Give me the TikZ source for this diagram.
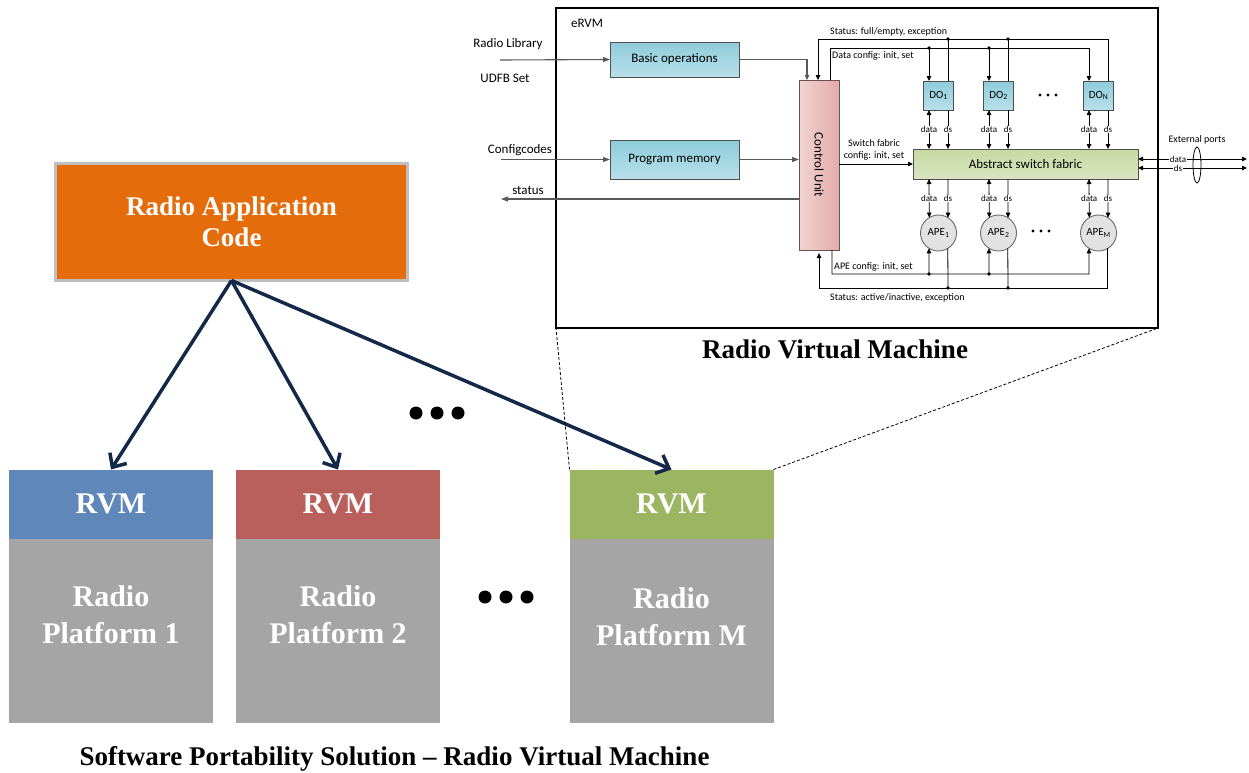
\documentclass[tikz,border=0pt]{standalone}
\usepackage{fontspec}
\setmainfont{Liberation Serif}
\newfontfamily\calfont{Carlito}
\usetikzlibrary{arrows.meta,calc,shapes.geometric}
\definecolor{racorange}{HTML}{E46C0A}
\definecolor{racborder}{HTML}{BFBFBF}
\definecolor{navy}{HTML}{14294A}
\definecolor{rvmblue}{HTML}{5F87BA}
\definecolor{rvmred}{HTML}{B9605D}
\definecolor{rvmgreen}{HTML}{9BB562}
\definecolor{platgray}{HTML}{A5A5A5}
\definecolor{tealtop}{HTML}{8ECCDA}
\definecolor{tealbot}{HTML}{B8E0EA}
\definecolor{boxedge}{HTML}{4F4F4F}
\definecolor{cuL}{HTML}{F2D3D1}
\definecolor{cuR}{HTML}{E2ABA9}
\definecolor{cuedge}{HTML}{6E5050}
\definecolor{fabtop}{HTML}{C7D9A2}
\definecolor{fabbot}{HTML}{D9E5C1}
\definecolor{apefill}{HTML}{E2E2E2}
\definecolor{apeedge}{HTML}{6A6A6A}
\definecolor{wiregray}{HTML}{595959}
\begin{document}
\begin{tikzpicture}[x=1pt,y=-1pt,
  bigtxt/.style={font=\bfseries\fontsize{30}{37}\selectfont, text=white, align=center, inner sep=0},
  navyarrow/.style={draw=navy, line width=3.5pt, -{Straight Barb[length=11pt,width=20pt]}},
  rvmbox/.style={minimum width=204pt, minimum height=69pt, inner sep=0, outer sep=0},
  platbox/.style={fill=platgray, minimum width=204pt, minimum height=184pt, inner sep=0, outer sep=0},
  cal/.style={font=\calfont\fontsize{13}{15}\selectfont, inner sep=0},
  calsm/.style={font=\calfont\fontsize{10}{12}\selectfont, inner sep=0},
  caltiny/.style={font=\calfont\fontsize{9}{10}\selectfont, inner sep=0.6pt, fill=white},
  tealbox/.style={draw=boxedge, line width=0.8pt, top color=tealtop, bottom color=tealbot, inner sep=0, outer sep=0, font=\calfont\fontsize{13}{15}\selectfont},
  dobox/.style={tealbox, minimum width=30pt, minimum height=29pt, font=\calfont\fontsize{11}{13}\selectfont},
  apecirc/.style={circle, draw=apeedge, line width=0.9pt, fill=apefill, minimum size=36pt, inner sep=0, outer sep=0, font=\calfont\fontsize{11}{13}\selectfont},
  wire/.style={draw=black, line width=0.8pt},
  gwire/.style={draw=wiregray, line width=1.1pt},
  arr/.style={-{Triangle[length=5pt,width=4.5pt]}},
  darr/.style={{Triangle[length=5pt,width=4.5pt]}-{Triangle[length=5pt,width=4.5pt]}},
  garr/.style={-{Triangle[length=7pt,width=5pt]}},
  jdot/.style={fill=black}
]
\useasboundingbox (0,0) rectangle (1249,772);

% ---------- lower part ----------
\node[draw=racborder, line width=3pt, fill=racorange, minimum width=352pt, minimum height=117pt,
      inner sep=0, outer sep=0, font=\bfseries\fontsize{27}{31}\selectfont, text=white, align=center]
      (rac) at (231.5,222) {Radio Application\\Code};

\node[rvmbox, fill=rvmblue, bigtxt] (rvm1) at (111,504) {RVM};
\node[rvmbox, fill=rvmred, bigtxt] (rvm2) at (338,504) {RVM};
\node[rvmbox, fill=rvmgreen, bigtxt] (rvm3) at (671.5,504) {RVM};
\node[platbox] (plat1) at (111,630.5) {};
\node[platbox] (plat2) at (338,630.5) {};
\node[platbox] (plat3) at (671.5,630.5) {};
\node[bigtxt] (pt1) at (111,615) {Radio\\Platform 1};
\node[bigtxt] (pt2) at (338,615) {Radio\\Platform 2};
\node[bigtxt] (pt3) at (671.5,617) {Radio\\Platform M};

\draw[navyarrow] (rac.south) -- (rvm1.north);
\draw[navyarrow] (rac.south) -- (rvm2.north);
\draw[navyarrow] (rac.south) -- (rvm3.north);

\foreach \x in {416,437,458} \fill (\x,413) circle (6.5pt);
\foreach \x in {485,506,527} \fill (\x,597) circle (6.5pt);

\node[font=\bfseries\fontsize{27}{30}\selectfont, inner sep=0] (title) at (394.5,759) {Software Portability Solution – Radio Virtual Machine};

% ---------- eRVM ----------
\node[draw, line width=1.3pt, minimum width=602pt, minimum height=320pt, inner sep=0, outer sep=0] (ervm) at (857,168) {};
\node[font=\bfseries\fontsize{27}{30}\selectfont, inner sep=0] (rvmt) at (835,349) {Radio Virtual Machine};
\draw[dashed, line width=0.8pt, dash pattern=on 3pt off 2pt] (rvm3.north west) -- (ervm.south west);
\draw[dashed, line width=0.8pt, dash pattern=on 3pt off 2pt] (rvm3.north east) -- (ervm.south east);

\node[cal] (elbl) at (587,23) {eRVM};
\node[cal] (lib) at (508,44) {Radio Library};
\node[cal] (udfb) at (505,78) {UDFB Set};
\node[cal] (cfg) at (520,150) {Configcodes};
\node[cal] (stl) at (528,190) {status};

\node[tealbox, minimum width=129pt, minimum height=35pt] (bo) at (674.5,59.5) {Basic operations};
\node[tealbox, minimum width=129pt, minimum height=39pt] (pm) at (674.5,159.5) {Program memory};
\node[draw=cuedge, line width=0.8pt, left color=cuL, right color=cuR, minimum width=40pt, minimum height=170pt,
      inner sep=0, outer sep=0, font=\calfont\fontsize{13}{15}\selectfont] (cu) at (819,165) {\rotatebox{-90}{Control Unit}};

\node[dobox] (do1) at (938.5,95.5) {DO\textsubscript{1}};
\node[dobox] (do2) at (998.5,95.5) {DO\textsubscript{2}};
\node[dobox] (doN) at (1098.5,95.5) {DO\textsubscript{N}};
\node[draw=boxedge, line width=0.8pt, top color=fabtop, bottom color=fabbot, minimum width=225pt, minimum height=30pt,
      inner sep=0, outer sep=0, font=\calfont\fontsize{13}{15}\selectfont] (fab) at (1025.5,164) {Abstract switch fabric};
\node[apecirc] (ape1) at (938.5,233) {APE\textsubscript{1}};
\node[apecirc] (ape2) at (998.5,233) {APE\textsubscript{2}};
\node[apecirc] (apeM) at (1098.5,233) {APE\textsubscript{M}};

\foreach \x in {1040,1048,1056} \fill (\x,95) circle (1.7pt);
\foreach \x in {1033,1041,1049} \fill (\x,231) circle (1.7pt);

% helper coordinates
\coordinate (x1d) at (929,0);  \coordinate (x1s) at (948,0);
\coordinate (x2d) at (989,0);  \coordinate (x2s) at (1008,0);
\coordinate (xNd) at (1089,0); \coordinate (xNs) at (1108,0);
\coordinate (yS) at (0,39);  \coordinate (yD) at (0,48);
\coordinate (yA) at (0,274); \coordinate (yB) at (0,288);
\coordinate (xcb) at (807,0); \coordinate (xcs) at (818,0); \coordinate (xcd) at (830,0);
\coordinate (xca) at (832,0); \coordinate (xct) at (819,0);
\coordinate (libin) at (500,60);
\coordinate (cfgin) at (501,159.5);
\coordinate (stout) at (501,199);
\coordinate (e1) at (1247,159);
\coordinate (e2) at (1247,168);

% gray inputs
\draw[gwire,garr] (libin) -- (bo.west);
\draw[gwire,garr] (cfgin) -- (pm.west);
\draw[gwire,garr] (pm.east) -- (cu.west |- pm.east);
\draw[gwire,garr] (cu.west |- stout) -- (stout);
\draw[gwire,arr] (bo.east) -| (xcb |- cu.north);

% top buses
\draw[wire,arr] (xNs |- doN.north) |- (xcs |- yS) -- (xcs |- cu.north);
\draw[wire] (x1s |- do1.north) -- (x1s |- yS);
\draw[wire] (x2s |- do2.north) -- (x2s |- yS);
\fill (x1s |- yS) circle (1.8pt);
\fill (x2s |- yS) circle (1.8pt);
\node[calsm, anchor=west] (stlbl) at (830,32) {Status: full/empty, exception};

\draw[wire,arr] (xcd |- cu.north) |- (xNd |- yD) -- (xNd |- doN.north);
\draw[wire,arr] (x1d |- yD) -- (x1d |- do1.north);
\draw[wire,arr] (x2d |- yD) -- (x2d |- do2.north);
\fill (x1d |- yD) circle (1.8pt);
\fill (x2d |- yD) circle (1.8pt);
\node[calsm, anchor=west] (dclbl) at (832,56) {Data config: init, set};

% DO <-> fabric
\foreach \d/\s/\n in {x1d/x1s/do1, x2d/x2s/do2, xNd/xNs/doN}{
  \draw[wire,darr] (\d |- \n.south) -- node[caltiny]{data} (\d |- fab.north);
  \draw[wire,arr] (\s |- \n.south) -- node[caltiny]{ds} (\s |- fab.north);
}
% fabric <-> APE
\foreach \d/\s/\n in {x1d/x1s/ape1, x2d/x2s/ape2, xNd/xNs/apeM}{
  \draw[wire,darr] (\d |- fab.south) -- node[caltiny]{data} (\n.121.9);
  \draw[wire,arr] (\s |- fab.south) -- node[caltiny]{ds} (\n.58.1);
}

% switch fabric config
\draw[wire,arr] (cu.east |- fab.west) -- (fab.west);
\node[calsm, align=center, font=\calfont\fontsize{10}{12}\selectfont] (sfc) at (874,150) {Switch fabric\\config: init, set};

% bottom buses
\draw[wire,arr] (xca |- cu.south) |- (xNd |- yA) -- (apeM.238.1);
\draw[wire,arr] (x1d |- yA) -- (ape1.238.1);
\draw[wire,arr] (x2d |- yA) -- (ape2.238.1);
\fill (x1d |- yA) circle (1.8pt);
\fill (x2d |- yA) circle (1.8pt);
\node[calsm, anchor=west] (aclbl) at (834,267) {APE config: init, set};

\draw[wire,arr,shorten >=3pt] (apeM.301.9) |- (xct |- yB) -- (xct |- cu.south);
\draw[wire] (ape1.301.9) -- (x1s |- yB);
\draw[wire] (ape2.301.9) -- (x2s |- yB);
\fill (x1s |- yB) circle (1.8pt);
\fill (x2s |- yB) circle (1.8pt);
\node[calsm, anchor=west] (sblbl) at (830,298) {Status: active/inactive, exception};

% external ports
\draw[wire,darr] (fab.east |- e1) -- node[caltiny, pos=0.367]{data} (e1);
\draw[wire,darr] (fab.east |- e2) -- node[caltiny, pos=0.367]{ds} (e2);
\node[draw, ellipse, line width=0.8pt, minimum width=8pt, minimum height=36pt, inner sep=0] (ext) at (1197,165) {};
\node[calsm] (extl) at (1197,140) {External ports};
\end{tikzpicture}
\end{document}
